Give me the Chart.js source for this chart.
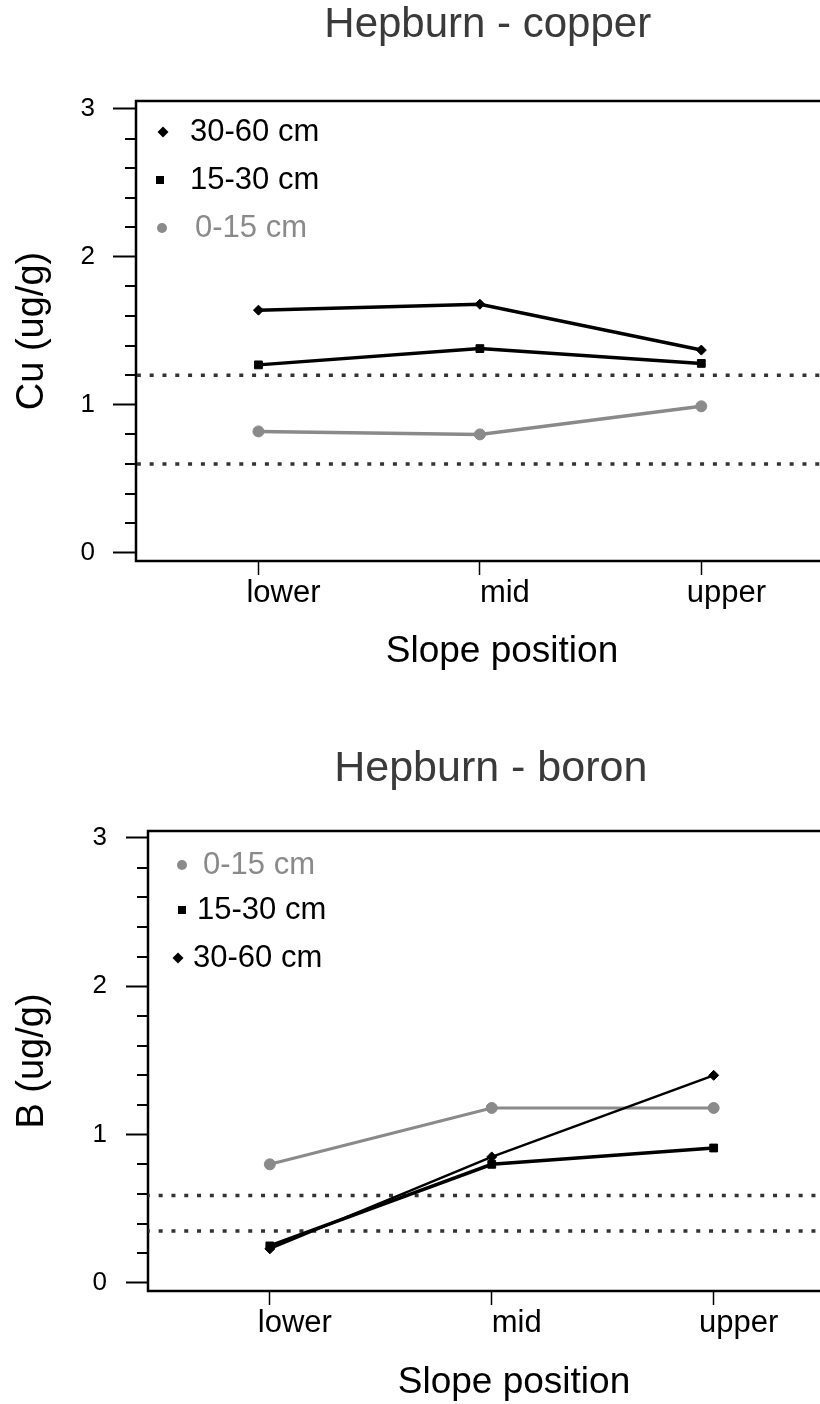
<!DOCTYPE html>
<html>
<head>
<meta charset="utf-8">
<script src="https://cdn.jsdelivr.net/npm/chart.js@4/dist/chart.umd.min.js"></script>
<style>
  body { margin: 0; background: #fff; }
  #page { position: relative; width: 820px; height: 1404px; overflow: hidden; background: #fff; }
  canvas { position: absolute; left: 0; }
  #cuChart { top: 0; }
  #bChart { top: 700px; }
</style>
</head>
<body>
<div id="page">
  <canvas id="cuChart" width="846" height="700"></canvas>
  <canvas id="bChart" width="840" height="706"></canvas>
</div>
<script>
// categories
const slopePositions = ['lower', 'mid', 'upper'];
const yTickLabels = [0, 1, 2, 3];
const yMinorStep = 0.2;

// copper (ug/g)
const cu0to15 = [0.82, 0.80, 0.99];
const cu15to30 = [1.27, 1.38, 1.28];
const cu30to60 = [1.64, 1.68, 1.37];
const cuLimits = [1.2, 0.6];

// boron (ug/g)
const b0to15 = [0.80, 1.18, 1.18];
const b15to30 = [0.25, 0.80, 0.91];
const b30to60 = [0.23, 0.85, 1.40];
const bLimits = [0.59, 0.35];

const FONT = "'Liberation Sans', Arial, sans-serif";
const GREY = '#8a8a8a';

function toPoints(values) {
  return values.map((v, i) => ({ x: i, y: v }));
}

function limitLine(v) {
  return {
    data: [{ x: -5, y: v }, { x: 10, y: v }],
    borderColor: '#333',
    borderWidth: 3.5,
    borderDash: [4, 8.8],
    pointRadius: 0,
    order: 10
  };
}

function series(label, values, style, color, width, radius) {
  return {
    label: label,
    data: toPoints(values),
    borderColor: color,
    backgroundColor: color,
    borderWidth: width,
    pointStyle: style,
    pointRadius: radius,
    pointBorderWidth: 1,
    order: 1
  };
}

// box round the plot, minor y ticks, x axis title and the inset legend
const framePlugin = {
  id: 'frame',
  beforeDatasetsDraw(chart, args, opts) {
    const ctx = chart.ctx;
    const a = chart.chartArea;
    const y = chart.scales.y;
    ctx.save();
    ctx.strokeStyle = '#000';
    ctx.lineWidth = 2.5;
    ctx.strokeRect(a.left, a.top, a.right - a.left, a.bottom - a.top);
    ctx.lineWidth = 2;
    y.ticks.forEach(t => {
      if (Math.abs(t.value - Math.round(t.value)) > 1e-6) {
        const py = Math.round(y.getPixelForValue(t.value));
        ctx.beginPath();
        ctx.moveTo(a.left - 11, py);
        ctx.lineTo(a.left, py);
        ctx.stroke();
      }
    });
    if (opts.xTitle) {
      ctx.fillStyle = '#000';
      ctx.font = '37px ' + FONT;
      ctx.textAlign = 'center';
      ctx.textBaseline = 'middle';
      ctx.fillText(opts.xTitle.text, opts.xTitle.x, opts.xTitle.y);
    }
    ctx.restore();
  },
  afterDraw(chart, args, opts) {
    const ctx = chart.ctx;
    ctx.save();
    ctx.font = '31px ' + FONT;
    ctx.textBaseline = 'middle';
    ctx.textAlign = 'left';
    (opts.items || []).forEach(it => {
      ctx.fillStyle = it.color;
      ctx.beginPath();
      if (it.style === 'rectRot') {
        ctx.moveTo(it.mx, it.my - 5.5);
        ctx.lineTo(it.mx + 5.5, it.my);
        ctx.lineTo(it.mx, it.my + 5.5);
        ctx.lineTo(it.mx - 5.5, it.my);
        ctx.closePath();
      } else if (it.style === 'rect') {
        ctx.rect(it.mx - 4, it.my - 4, 8, 8);
      } else {
        ctx.arc(it.mx, it.my, 5, 0, Math.PI * 2);
      }
      ctx.fill();
      ctx.fillText(it.label, it.tx, it.my);
    });
    ctx.restore();
  }
};

function makeChart(id, cfg) {
  const yTicks = [];
  for (let k = 0; k <= Math.round(yTickLabels[yTickLabels.length - 1] / yMinorStep); k++) {
    yTicks.push({ value: Math.round(k * yMinorStep * 10) / 10 });
  }
  return new Chart(document.getElementById(id), {
    type: 'line',
    data: { datasets: cfg.datasets },
    options: {
      responsive: false,
      animation: false,
      layout: { padding: 0 },
      plugins: {
        legend: { display: false },
        tooltip: { enabled: false },
        title: {
          display: true,
          text: cfg.title,
          fullSize: false,
          color: '#3a3a3a',
          font: { family: FONT, size: cfg.titleSize, weight: 'normal', lineHeight: 1.2 },
          padding: cfg.titlePad
        },
        frame: { items: cfg.legend, xTitle: cfg.xTitle }
      },
      scales: {
        x: {
          type: 'linear',
          min: cfg.xMin,
          max: cfg.xMax,
          border: { display: false },
          grid: { drawOnChartArea: false, tickLength: 14, tickColor: '#000', tickWidth: 1.5 },
          ticks: {
            autoSkip: false,
            maxRotation: 0,
            padding: 0,
            labelOffset: 25,
            color: '#000',
            font: { family: FONT, size: 31 },
            callback: v => slopePositions[v] ?? ''
          },
          afterBuildTicks: s => { s.ticks = slopePositions.map((c, i) => ({ value: i })); },
          afterFit: s => { s.height = cfg.xHeight; },
          title: { display: false }
        },
        y: {
          min: cfg.yMin,
          max: cfg.yMax,
          border: { display: false },
          grid: {
            drawOnChartArea: false,
            tickLength: cfg.majorTick,
            tickWidth: 2,
            tickColor: c => (c.tick && Number.isInteger(c.tick.value)) ? '#000' : 'rgba(0,0,0,0)'
          },
          ticks: {
            autoSkip: false,
            padding: cfg.yTickPad,
            color: '#000',
            font: { family: FONT, size: 26 },
            callback: v => yTickLabels.includes(v) ? String(v) : ''
          },
          afterBuildTicks: s => { s.ticks = yTicks.map(t => ({ value: t.value })); },
          afterFit: s => { s.width = cfg.yWidth; },
          title: {
            display: true,
            text: cfg.yTitle,
            color: '#000',
            font: { family: FONT, size: 38, lineHeight: 1.2 },
            padding: { top: 10, bottom: 0 }
          }
        }
      }
    },
    plugins: [framePlugin]
  });
}

makeChart('cuChart', {
  title: 'Hepburn - copper',
  titleSize: 42,
  titlePad: { top: 0, bottom: 50.6 },
  yTitle: 'Cu (ug/g)',
  xTitle: { text: 'Slope position', x: 502, y: 652 },
  xMin: -0.553, xMax: 2.624,
  yMin: -0.056, yMax: 3.054,
  xHeight: 139,
  yWidth: 136, majorTick: 23, yTickPad: 18,
  datasets: [
    series('30-60 cm', cu30to60, 'rectRot', '#000', 3.5, 5),
    series('15-30 cm', cu15to30, 'rect', '#000', 3.5, 5.5),
    series('0-15 cm', cu0to15, 'circle', GREY, 3.5, 5.5),
    limitLine(cuLimits[0]),
    limitLine(cuLimits[1])
  ],
  legend: [
    { label: '30-60 cm', style: 'rectRot', color: '#000', mx: 163, my: 132, tx: 190 },
    { label: '15-30 cm', style: 'rect', color: '#000', mx: 160, my: 180, tx: 190 },
    { label: '0-15 cm', style: 'circle', color: GREY, mx: 162, my: 228, tx: 195 }
  ]
});

makeChart('bChart', {
  title: 'Hepburn - boron',
  titleSize: 43,
  titlePad: { top: 43.2, bottom: 36.2 },
  yTitle: 'B (ug/g)',
  xTitle: { text: 'Slope position', x: 514, y: 683 },
  xMin: -0.549, xMax: 2.540,
  yMin: -0.054, yMax: 3.047,
  xHeight: 115,
  yWidth: 148, majorTick: 22, yTickPad: 19,
  datasets: [
    series('30-60 cm', b30to60, 'rectRot', '#000', 2.5, 5),
    series('15-30 cm', b15to30, 'rect', '#000', 3.5, 5.5),
    series('0-15 cm', b0to15, 'circle', GREY, 3, 5.5),
    limitLine(bLimits[0]),
    limitLine(bLimits[1])
  ],
  legend: [
    { label: '0-15 cm', style: 'circle', color: GREY, mx: 182, my: 165, tx: 203 },
    { label: '15-30 cm', style: 'rect', color: '#000', mx: 182, my: 210, tx: 197 },
    { label: '30-60 cm', style: 'rectRot', color: '#000', mx: 178, my: 258, tx: 193 }
  ]
});
</script>
</body>
</html>
